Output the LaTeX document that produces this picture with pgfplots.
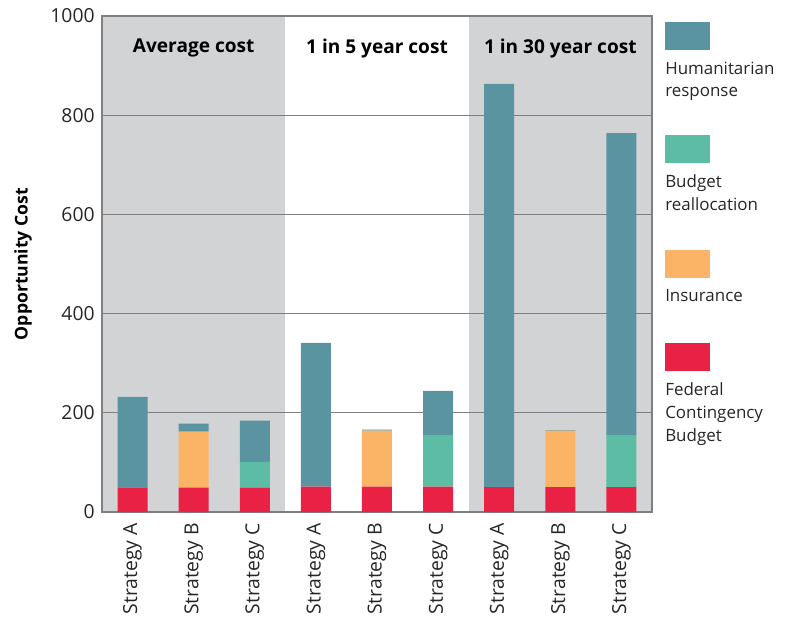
\documentclass[border=0pt]{standalone}
\usepackage{pgfplots}
\pgfplotsset{compat=1.18}
\usepackage{fontspec}
\setmainfont{Open Sans}
\definecolor{hum}{HTML}{5A94A0}
\definecolor{bud}{HTML}{5CBCA4}
\definecolor{ins}{HTML}{FBB466}
\definecolor{fed}{HTML}{E92245}
\definecolor{bg}{HTML}{D2D3D5}
\definecolor{gridc}{HTML}{7F7F7F}
\begin{document}
\begin{tikzpicture}[font=\fontsize{14.5}{17}\selectfont]
% background bands
\begin{axis}[
  scale only axis,
  width=412.5pt, height=372pt,
  xmin=-0.5, xmax=8.5, ymin=0, ymax=1000,
  hide axis,
]
\addplot[fill=bg, draw=none] coordinates {(-0.5,0) (-0.5,1000) (2.5,1000) (2.5,0)} -- cycle;
\addplot[fill=bg, draw=none] coordinates {(5.5,0) (5.5,1000) (8.5,1000) (8.5,0)} -- cycle;
\end{axis}
\begin{axis}[
  scale only axis,
  width=412.5pt, height=372pt,
  xmin=-0.5, xmax=8.5, ymin=0, ymax=1000,
  ybar stacked, bar width=22.5pt,
  xtick={0,...,8},
  xticklabels={Strategy A,Strategy B,Strategy C,Strategy A,Strategy B,Strategy C,Strategy A,Strategy B,Strategy C},
  xticklabel style={rotate=90, anchor=east, text=black!85, font=\fontsize{14.5}{17}\selectfont},
  xticklabel shift=5pt,
  ytick={0,200,...,1000},
  yticklabel style={text=black!85, font=\fontsize{14.5}{17}\selectfont},
  yticklabel shift=2pt,
  /pgf/number format/assume math mode=true,
  /pgf/number format/1000 sep={},
  major tick length=0pt,
  ymajorgrids,
  grid style={gridc, line width=0.9pt},
  axis line style={gridc, line width=0.9pt},
  ylabel={\bfseries Opportunity Cost},
  ylabel style={font=\fontsize{13.2}{15}\selectfont, yshift=7pt},
  clip=false,
]
\addplot[fill=fed, draw=none] coordinates {(0,49) (1,49) (2,49) (3,51) (4,51) (5,51) (6,50) (7,50) (8,50)};
\addplot[fill=ins, draw=none] coordinates {(0,0) (1,113) (2,0) (3,0) (4,113) (5,0) (6,0) (7,114) (8,0)};
\addplot[fill=bud, draw=none] coordinates {(0,0) (1,0) (2,52) (3,0) (4,0) (5,104) (6,0) (7,0) (8,105)};
\addplot[fill=hum, draw=none] coordinates {(0,183) (1,16) (2,83) (3,290) (4,2) (5,89) (6,813) (7,1) (8,609)};
\node[font=\fontsize{14.3}{17}\selectfont\bfseries] at (axis cs:1,935) {Average cost};
\node[font=\fontsize{14.3}{17}\selectfont\bfseries] at (axis cs:4,935) {1 in 5 year cost};
\node[font=\fontsize{14.3}{17}\selectfont\bfseries] at (axis cs:7,935) {1 in 30 year cost};
\end{axis}
% legend
\fill[hum] (422.25pt,346.5pt) rectangle ++(33.75pt,21pt);
\node[anchor=north west, align=left, inner sep=0pt, text=black!85, font=\fontsize{12.7}{17}\selectfont] at (422.25pt,338pt) {Humanitarian\\response};
\fill[bud] (422.25pt,261.75pt) rectangle ++(33.75pt,21pt);
\node[anchor=north west, align=left, inner sep=0pt, text=black!85, font=\fontsize{12.7}{17}\selectfont] at (422.25pt,253pt) {Budget\\reallocation};
\fill[ins] (422.25pt,175.5pt) rectangle ++(33.75pt,21pt);
\node[anchor=north west, align=left, inner sep=0pt, text=black!85, font=\fontsize{12.7}{17}\selectfont] at (422.25pt,167pt) {Insurance};
\fill[fed] (422.25pt,105.75pt) rectangle ++(33.75pt,21pt);
\node[anchor=north west, align=left, inner sep=0pt, text=black!85, font=\fontsize{12.7}{17}\selectfont] at (422.25pt,97pt) {Federal\\Contingency\\Budget};
\useasboundingbox (-76.5pt,-80.25pt) rectangle (520.5pt,384pt);
\end{tikzpicture}
\end{document}
